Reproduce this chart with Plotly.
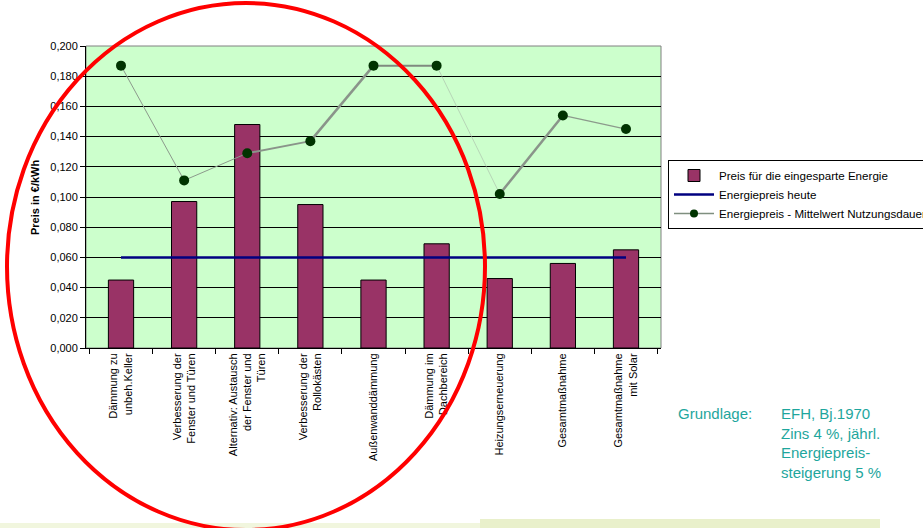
import plotly.graph_objects as go

categories = [
    "Dämmung zu<br>unbeh.Keller",
    "Verbesserung der<br>Fenster und Türen",
    "Alternativ: Austausch<br>der Fenster und<br>Türen",
    "Verbesserung der<br>Rollokästen",
    "Außenwanddämmung",
    "Dämmung im<br>Dachbereich",
    "Heizungserneuerung",
    "Gesamtmaßnahme",
    "Gesamtmaßnahme<br>mit Solar",
]
preis_eingespart = [0.045, 0.097, 0.148, 0.095, 0.045, 0.069, 0.046, 0.056, 0.065]
energiepreis_heute = [0.060, 0.060, 0.060, 0.060, 0.060, 0.060, 0.060, 0.060, 0.060]
energiepreis_mittel = [0.187, 0.111, 0.129, 0.137, 0.187, 0.187, 0.102, 0.154, 0.145]
y_tickvals = [0.0, 0.02, 0.04, 0.06, 0.08, 0.10, 0.12, 0.14, 0.16, 0.18, 0.20]
y_ticktext = ["0,000", "0,020", "0,040", "0,060", "0,080", "0,100", "0,120", "0,140", "0,160", "0,180", "0,200"]

# style of the individual connecting segments (width, colour) as in the original
segment_styles = [(1.0, "#8c9a8c"), (1.0, "#8c9a8c"), (2.0, "#8a948a"), (2.5, "#8a948a"),
                  (2.0, "#7f8a7f"), (0.6, "#a8b8a8"), (2.5, "#8a948a"), (1.2, "#8c9a8c")]

FONT = "Liberation Sans, Arial, sans-serif"
W, H = 923, 528
L, R, T, B = 86, 262, 46, 180
PW, PH = W - L - R, H - T - B

def px(x):
    return (x - L) / PW

def py(y):
    return (H - B - y) / PH

fig = go.Figure()
fig.add_trace(go.Bar(
    x=categories, y=preis_eingespart, name="Preis für die eingesparte Energie",
    marker=dict(color="#993366", line=dict(color="black", width=1)), width=0.4,
))
fig.add_trace(go.Scatter(
    x=categories, y=energiepreis_heute, name="Energiepreis heute", mode="lines",
    line=dict(color="#000080", width=2.5),
))
for i, (w, c) in enumerate(segment_styles):
    fig.add_trace(go.Scatter(
        x=categories[i:i + 2], y=energiepreis_mittel[i:i + 2], mode="lines",
        line=dict(color=c, width=w), showlegend=False, hoverinfo="skip",
        legendgroup="mittel",
    ))
fig.add_trace(go.Scatter(
    x=categories, y=energiepreis_mittel, name="Energiepreis - Mittelwert Nutzungsdauer",
    mode="markers", marker=dict(color="#003300", size=10), showlegend=False,
    legendgroup="mittel",
))
# legend entry (line with marker)
fig.add_trace(go.Scatter(
    x=[None], y=[None], mode="lines+markers", name="Energiepreis - Mittelwert Nutzungsdauer",
    line=dict(color="#7f8f7f", width=1.5), marker=dict(color="#003300", size=8),
    legendgroup="mittel", showlegend=True,
))

teal = "#1ea69d"
annotations = [
    dict(x=px(35), y=py(198), xref="paper", yref="paper", text="<b>Preis in €/kWh</b>",
         textangle=-90, showarrow=False, xanchor="center", yanchor="middle",
         font=dict(size=11, color="black", family=FONT)),
    dict(x=px(676), y=py(403), xref="paper", yref="paper", text="Grundlage:",
         showarrow=False, xanchor="left", yanchor="top", font=dict(size=15, color=teal, family=FONT)),
    dict(x=px(779), y=py(403), xref="paper", yref="paper",
         text="EFH, Bj.1970<br>Zins 4 %, jährl.<br>Energiepreis-<br>steigerung 5 %",
         showarrow=False, xanchor="left", yanchor="top", align="left",
         font=dict(size=15, color=teal, family=FONT)),
]

shapes = [
    dict(type="rect", xref="paper", yref="paper", x0=px(0), x1=px(480), y0=py(529), y1=py(523),
         fillcolor="#f1f6de", line=dict(width=0), layer="below"),
    dict(type="rect", xref="paper", yref="paper", x0=px(480), x1=px(880), y0=py(529), y1=py(519),
         fillcolor="#e9f0cb", line=dict(width=0), layer="below"),
    dict(type="circle", xref="paper", yref="paper", x0=px(7), x1=px(485), y0=py(530), y1=py(3),
         line=dict(color="#ff0000", width=4), layer="above"),
]

fig.update_layout(
    width=W, height=H, margin=dict(l=L, r=R, t=T, b=B, autoexpand=False),
    paper_bgcolor="white", plot_bgcolor="#ccffcc",
    font=dict(family=FONT, size=11, color="black"),
    showlegend=True,
    legend=dict(x=px(668), y=py(160), xanchor="left", yanchor="top",
                bgcolor="white", bordercolor="black", borderwidth=1,
                font=dict(size=11.6, family=FONT), tracegroupgap=0, itemwidth=40),
    annotations=annotations, shapes=shapes, bargap=0.6,
)
fig.update_xaxes(
    type="category", tickangle=-90, tickson="boundaries", ticks="outside", ticklen=5,
    tickcolor="black", showline=True, linecolor="black", linewidth=1,
    tickfont=dict(size=11, family=FONT), showgrid=False, mirror=False,
)
fig.update_yaxes(
    range=[0, 0.2], tickvals=y_tickvals, ticktext=y_ticktext, ticks="outside", ticklen=5,
    tickcolor="black", showline=True, linecolor="black", linewidth=1,
    showgrid=True, gridcolor="black", gridwidth=1, zeroline=False,
    tickfont=dict(size=11, family=FONT),
)
fig.add_shape(type="rect", xref="paper", yref="paper", x0=0, x1=1, y0=0, y1=1,
              line=dict(color="#808080", width=1), layer="below")

fig.write_html("out.html")
